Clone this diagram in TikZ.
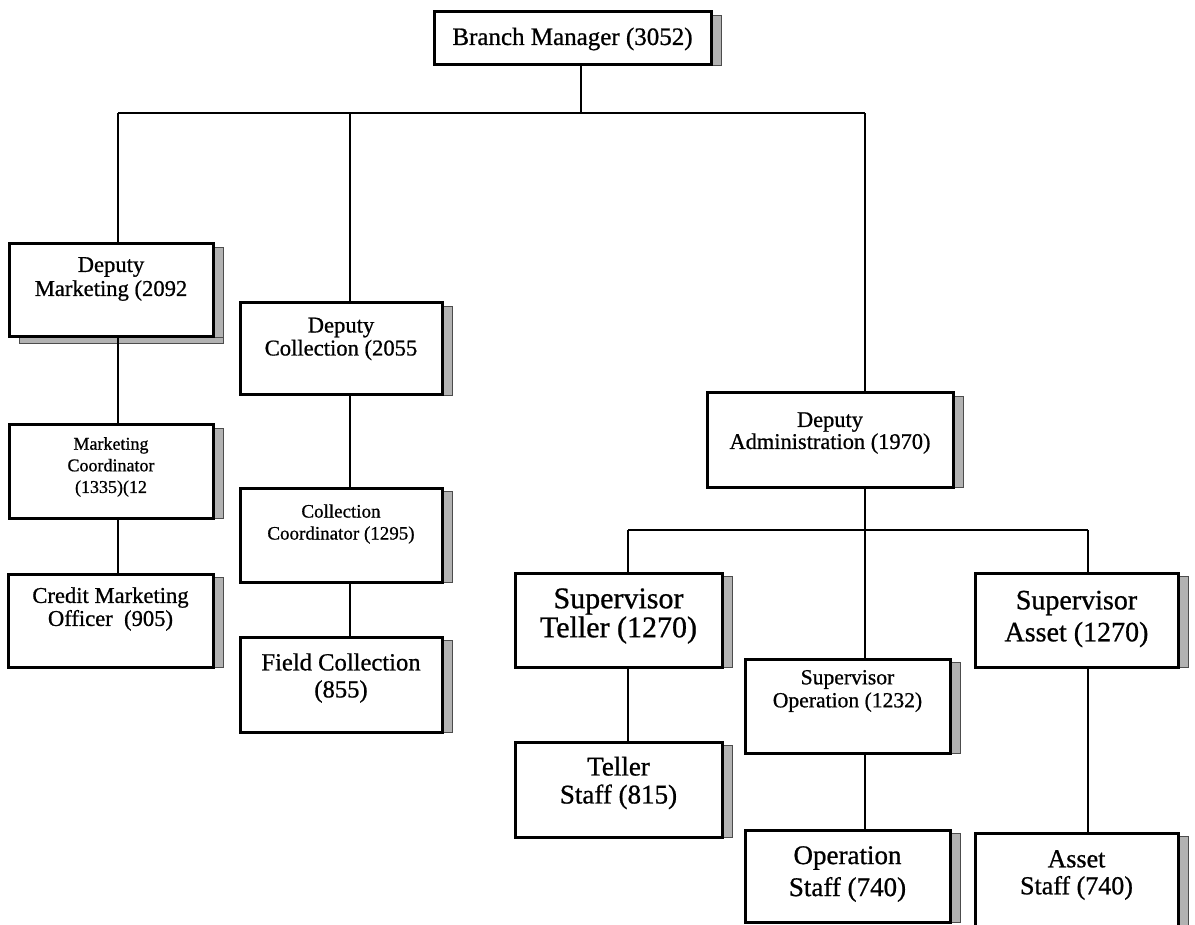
\documentclass[tikz,border=0pt]{standalone}
\usepackage{fontspec}
\setmainfont{Liberation Serif}[UprightFeatures={FakeBold=0.8}]
\usetikzlibrary{fit}

% \orgbox{name}{left}{top}{right}{bottom}{text centre y}{font size}{line skip}{text}
\newcommand\orgbox[9]{%
  \fill[shadestrip] (#4,#3+3) rectangle (#4+10,#5);
  \node[unitbox, fit={(#2,#3) (#4,#5)}] (#1) {};
  \node[unittext, font=\fontsize{#7pt}{#8pt}\selectfont] (#1-t)
    at ({(#2+#4)/2},#6) {#9};
}

\begin{document}
\begin{tikzpicture}[x=0.5pt,y=-0.5pt,
  unitbox/.style={draw, line width=1.5pt, inner sep=0pt, fill=white},
  shadestrip/.style={fill=gray!60, draw=black!70, line width=0.4pt},
  link/.style={line width=1.1pt},
  unittext/.style={align=center, inner sep=0pt, text=black}]

\useasboundingbox (0,0) rectangle (1195,925);

% top level
\orgbox{bm}{434}{12}{711}{65}{39}{12.5}{14}{Branch Manager (3052)}

% marketing column
\fill[shadestrip] (19,337) rectangle (223,343);
\orgbox{dm}{9}{244}{213}{337}{279}{11.3}{12}{Deputy\\Marketing (2092}
\orgbox{mc}{9}{425}{213}{518}{467}{9}{10.8}{Marketing\\Coordinator\\(1335)(12}
\orgbox{cmo}{8}{574}{213}{667}{609}{11.3}{11.5}{Credit Marketing\\Officer\ \ (905)}

% collection column
\orgbox{dc}{240}{303}{442}{395}{339}{11.3}{11.5}{Deputy\\Collection (2055}
\orgbox{cc}{240}{488}{442}{582}{524}{9.5}{11}{Collection\\Coordinator (1295)}
\orgbox{fc}{240}{637}{442}{732}{678}{12.3}{13.5}{Field Collection\\(855)}

% administration branch
\orgbox{da}{707}{393}{953}{487}{433}{11.2}{11}{Deputy\\Administration (1970)}
\orgbox{st}{515}{573}{722}{667}{616}{15}{14.5}{Supervisor\\Teller (1270)}
\orgbox{ts}{515}{742}{722}{837}{783}{13.5}{14}{Teller\\Staff (815)}
\orgbox{so}{745}{659}{950}{753}{691}{10.8}{11.5}{Supervisor\\Operation (1232)}
\orgbox{os}{745}{830}{950}{922}{874}{13.5}{16}{Operation\\Staff (740)}
\orgbox{sa}{975}{573}{1178}{667}{619}{14}{16}{Supervisor\\Asset (1270)}
\orgbox{as}{975}{833}{1178}{940}{875}{13}{13.5}{Asset\\Staff (740)}

% junction points of the connector lines
\coordinate (j0) at (581,113);
\coordinate (jm) at (118,113);
\coordinate (jc) at (350,113);
\coordinate (ja) at (865,113);
\coordinate (k0) at (865,530);
\coordinate (kt) at (628,530);
\coordinate (ks) at (1088,530);

% connectors
\draw[link] (bm.south -| j0) -- (j0);
\draw[link] (jm) -- (ja);
\draw[link] (jm) -- (jm |- dm.north);
\draw[link] (jc) -- (jc |- dc.north);
\draw[link] (ja) -- (ja |- da.north);

\draw[link] (jm |- dm.south) -- (jm |- mc.north);
\draw[link] (jm |- mc.south) -- (jm |- cmo.north);

\draw[link] (jc |- dc.south) -- (jc |- cc.north);
\draw[link] (jc |- cc.south) -- (jc |- fc.north);

\draw[link] (k0 |- da.south) -- (k0);
\draw[link] (kt) -- (ks);
\draw[link] (kt) -- (kt |- st.north);
\draw[link] (k0) -- (k0 |- so.north);
\draw[link] (ks) -- (ks |- sa.north);

\draw[link] (kt |- st.south) -- (kt |- ts.north);
\draw[link] (k0 |- so.south) -- (k0 |- os.north);
\draw[link] (ks |- sa.south) -- (ks |- as.north);
\end{tikzpicture}
\end{document}
